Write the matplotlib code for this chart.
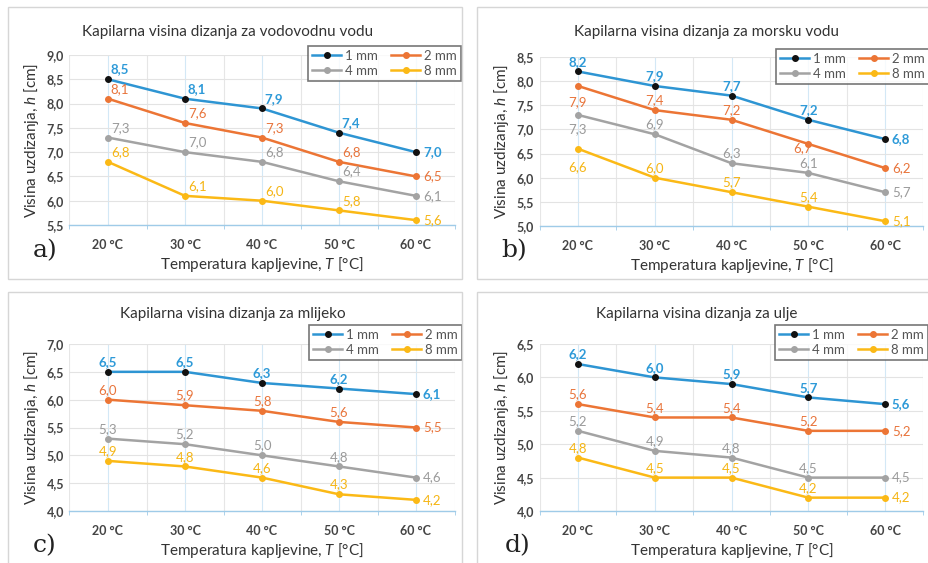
import matplotlib
matplotlib.use("Agg")
import matplotlib.pyplot as plt
from matplotlib.patches import Rectangle

plt.rcParams["font.family"] = ["Lato", "DejaVu Sans"]
plt.rcParams["mathtext.fontset"] = "custom"
plt.rcParams["mathtext.it"] = "Lato:italic"
plt.rcParams["mathtext.rm"] = "Lato"

# ================= DATA =================
temps = ["20 °C", "30 °C", "40 °C", "50 °C", "60 °C"]
sizes = ["1 mm", "2 mm", "4 mm", "8 mm"]

tap_water = [
    [8.5, 8.1, 7.9, 7.4, 7.0],
    [8.1, 7.6, 7.3, 6.8, 6.5],
    [7.3, 7.0, 6.8, 6.4, 6.1],
    [6.8, 6.1, 6.0, 5.8, 5.6],
]
sea_water = [
    [8.2, 7.9, 7.7, 7.2, 6.8],
    [7.9, 7.4, 7.2, 6.7, 6.2],
    [7.3, 6.9, 6.3, 6.1, 5.7],
    [6.6, 6.0, 5.7, 5.4, 5.1],
]
milk = [
    [6.5, 6.5, 6.3, 6.2, 6.1],
    [6.0, 5.9, 5.8, 5.6, 5.5],
    [5.3, 5.2, 5.0, 4.8, 4.6],
    [4.9, 4.8, 4.6, 4.3, 4.2],
]
oil = [
    [6.2, 6.0, 5.9, 5.7, 5.6],
    [5.6, 5.4, 5.4, 5.2, 5.2],
    [5.2, 4.9, 4.8, 4.5, 4.5],
    [4.8, 4.5, 4.5, 4.2, 4.2],
]

titles = [
    "Kapilarna visina dizanja za vodovodnu vodu",
    "Kapilarna visina dizanja za morsku vodu",
    "Kapilarna visina dizanja za mlijeko",
    "Kapilarna visina dizanja za ulje",
]
letters = ["a)", "b)", "c)", "d)"]
ylims = [(5.5, 9.0), (5.0, 8.5), (4.0, 7.0), (4.0, 6.5)]

line_colors = ["#2e95d3", "#ec7535", "#a3a3a3", "#fbb916"]
marker_colors = ["#111111", "#ec7535", "#a3a3a3", "#fbb916"]
label_colors = ["#2e9ad8", "#e8743b", "#9a9a9a", "#f5b514"]

W, H = 929, 563


def px_box(x0, y0, x1, y1):
    return [x0 / W, 1 - y1 / H, (x1 - x0) / W, (y1 - y0) / H]


fig = plt.figure(figsize=(W / 100, H / 100), dpi=100)
fig.patch.set_facecolor("white")

# panel frames
for (x0, y0, x1, y1) in [(8, 7, 462, 279), (477, 7, 935, 279),
                         (8, 292, 462, 570), (477, 292, 935, 570)]:
    fig.patches.append(Rectangle((x0 / W, 1 - y1 / H), (x1 - x0) / W, (y1 - y0) / H,
                                 transform=fig.transFigure, fill=False,
                                 edgecolor="#d6d6d6", linewidth=1.0))

axes_px = [(69.5, 55, 454.5, 225), (539.6, 57, 923.4, 226),
           (69.5, 344, 454.5, 511), (539.6, 344, 923.4, 511)]
title_px = [(228, 32), (707, 32), (233, 314), (697, 314)]
letter_px = [(45, 251), (514, 251), (45, 546), (518, 546)]
legend_px = [(461, 46), (929, 49), (462, 325), (928, 325)]
datasets = [tap_water, sea_water, milk, oil]

# label offsets (points): default above, last point to the right
offsets_default = [(2, 7), (0, 7), (0, 7), (0, 7)]
special = {
    (1, 1, 0): (0, -12), (1, 2, 0): (0, -10), (1, 3, 0): (0, -13),
    (1, 1, 3): (-4, -3),
}

for p, data in enumerate(datasets):
    ax = fig.add_axes(px_box(*axes_px[p]))
    x = list(range(len(temps)))
    handles = []
    for s, vals in enumerate(data):
        h, = ax.plot(x, vals, color=line_colors[s], linewidth=1.8, marker="o",
                     markersize=4, markerfacecolor=marker_colors[s],
                     markeredgecolor=marker_colors[s], label=sizes[s], zorder=3)
        handles.append(h)
        for i, v in enumerate(vals):
            if i == len(vals) - 1:
                off, ha = (5, 0), "left"
            else:
                off = special.get((p, s, i), offsets_default[p])
                ha = "left" if p == 0 else "center"
            ax.annotate(f"{v:.1f}".replace(".", ","), (i, v), xytext=off,
                        textcoords="offset points", ha=ha, va="center",
                        fontsize=9.5, color=label_colors[s],
                        fontweight="bold" if s == 0 else "normal", zorder=4)

    lo, hi = ylims[p]
    ax.set_ylim(lo, hi)
    ax.set_xlim(-0.5, len(temps) - 0.5)
    yt = [lo + 0.5 * k for k in range(int(round((hi - lo) / 0.5)) + 1)]
    ax.set_yticks(yt)
    ax.set_yticklabels([f"{t:.1f}".replace(".", ",") for t in yt])
    ax.set_xticks(x)
    ax.set_xticklabels(temps)
    ax.set_xticks([k - 0.5 for k in range(len(temps) + 1)], minor=True)

    ax.grid(True, axis="y", color="#e3e3e3", linewidth=0.8)
    ax.grid(True, axis="x", which="major", color="#d3e8f6", linewidth=0.8)
    ax.grid(True, axis="x", which="minor", color="#e6e6e6", linewidth=0.8)
    ax.set_axisbelow(True)
    for side in ["top", "right", "left"]:
        ax.spines[side].set_visible(False)
    ax.spines["bottom"].set_color("#9fcbe8")
    ax.spines["bottom"].set_linewidth(1.0)
    ax.tick_params(axis="both", which="major", length=0, labelsize=9,
                   colors="#444444")
    ax.tick_params(axis="x", which="major", pad=10)
    ax.tick_params(axis="x", which="minor", length=3, color="#9fcbe8")
    ax.tick_params(axis="y", pad=4)
    for t in ax.get_xticklabels() + ax.get_yticklabels():
        t.set_fontweight("bold")
    ax.set_facecolor("white")

    ax.set_ylabel("Visina uzdizanja, $h$ [cm]", fontsize=11, color="#333333",
                  labelpad=4)
    ax.set_xlabel("Temperatura kapljevine, $T$ [°C]", fontsize=11,
                  color="#333333", labelpad=3)

    tx, ty = title_px[p]
    fig.text(tx / W, 1 - ty / H, titles[p], ha="center", va="center",
             fontsize=11, color="#333333")
    lx, ly = letter_px[p]
    fig.text(lx / W, 1 - ly / H, letters[p], ha="center", va="center",
             fontsize=18, family="DejaVu Serif", color="#222222")

    # row-major legend order: 1 mm, 2 mm / 4 mm, 8 mm
    order = [0, 2, 1, 3]
    gx, gy = legend_px[p]
    leg = ax.legend([handles[k] for k in order], [sizes[k] for k in order],
                    loc="upper right", bbox_to_anchor=(gx / W, 1 - gy / H),
                    bbox_transform=fig.transFigure, ncol=2, fontsize=9.5,
                    frameon=True, fancybox=False, handlelength=2.2,
                    handletextpad=0.3, columnspacing=1.0, labelspacing=0.2,
                    borderpad=0.3, borderaxespad=0)
    leg.get_frame().set_edgecolor("#555555")
    leg.get_frame().set_linewidth(1.2)
    for t in leg.get_texts():
        t.set_color("#555555")

fig.savefig("out.png", dpi=100)
